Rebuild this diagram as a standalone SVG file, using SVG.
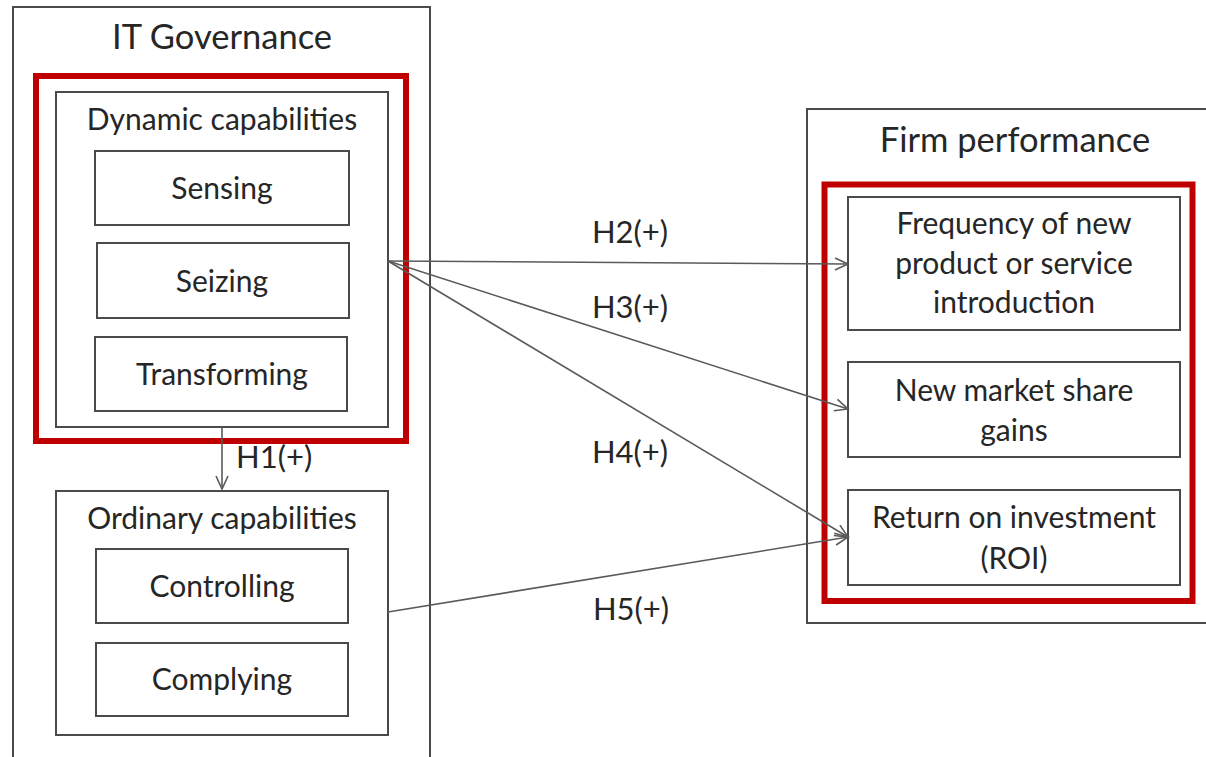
<svg xmlns="http://www.w3.org/2000/svg" width="1206" height="757" viewBox="0 0 1206 757">
  <defs>
    <style>
      .box { fill: none; stroke: #4a4a4a; stroke-width: 2; }
      .red { fill: none; stroke: #C00000; stroke-width: 6; }
      .t { font-family: Lato, "Open Sans", "Liberation Sans", sans-serif; fill: #262626; text-anchor: middle; font-size: 30px; }
      .title { font-size: 34.5px; }
      .h { font-size: 31px; }
      .lbl { font-family: Lato, "Open Sans", "Liberation Sans", sans-serif; fill: #262626; font-size: 31px; }
      .conn { fill: none; stroke: #5a5a5a; stroke-width: 1.6; }
    </style>
    <marker id="arr" markerUnits="userSpaceOnUse" markerWidth="16" markerHeight="16" refX="14" refY="7" orient="auto" viewBox="0 0 16 14">
      <path d="M1,1 L14,7 L1,13" fill="none" stroke="#5a5a5a" stroke-width="1.6"/>
    </marker>
  </defs>
  <rect width="1206" height="757" fill="#ffffff"/>

  <g id="it-governance">
    <rect class="box" x="13" y="7" width="417" height="770"/>
    <text class="t title" x="222" y="49">IT Governance</text>
  </g>
  <g id="dynamic-highlight">
    <rect class="red" x="36" y="76" width="370" height="365"/>
  </g>
  <g id="dynamic-capabilities">
    <rect class="box" x="56" y="92" width="332" height="335"/>
    <text class="t" x="222" y="130">Dynamic capabilities</text>
  </g>
  <g id="sensing">
    <rect class="box" x="95" y="151" width="254" height="74"/>
    <text class="t" x="222" y="199">Sensing</text>
  </g>
  <g id="seizing">
    <rect class="box" x="97" y="243" width="252" height="75"/>
    <text class="t" x="222" y="292">Seizing</text>
  </g>
  <g id="transforming">
    <rect class="box" x="95" y="337" width="252" height="74"/>
    <text class="t" x="222" y="385">Transforming</text>
  </g>
  <g id="ordinary-capabilities">
    <rect class="box" x="56" y="491" width="332" height="244"/>
    <text class="t" x="222" y="529">Ordinary capabilities</text>
  </g>
  <g id="controlling">
    <rect class="box" x="96" y="549" width="252" height="74"/>
    <text class="t" x="222" y="597">Controlling</text>
  </g>
  <g id="complying">
    <rect class="box" x="96" y="643" width="252" height="73"/>
    <text class="t" x="222" y="690">Complying</text>
  </g>

  <g id="firm-performance">
    <rect class="box" x="807" y="109" width="420" height="514"/>
    <text class="t title" x="1015" y="152">Firm performance</text>
  </g>
  <g id="performance-highlight">
    <rect class="red" x="824.5" y="184.5" width="368" height="416.5"/>
  </g>
  <g id="frequency">
    <rect class="box" x="848" y="197" width="332" height="133"/>
    <text class="t" x="1014" y="234">Frequency of new</text>
    <text class="t" x="1014" y="274">product or service</text>
    <text class="t" x="1014" y="313">introduction</text>
  </g>
  <g id="market-share">
    <rect class="box" x="848" y="362" width="332" height="95"/>
    <text class="t" x="1014" y="401">New market share</text>
    <text class="t" x="1014" y="441">gains</text>
  </g>
  <g id="roi">
    <rect class="box" x="848" y="490" width="332" height="95"/>
    <text class="t" x="1014" y="528">Return on investment</text>
    <text class="t" x="1014" y="569">(ROI)</text>
  </g>

  <g id="connectors">
    <line class="conn" x1="222" y1="427" x2="222" y2="489" marker-end="url(#arr)"/>
    <line class="conn" x1="388" y1="261" x2="848" y2="264" marker-end="url(#arr)"/>
    <line class="conn" x1="388" y1="261" x2="848" y2="409" marker-end="url(#arr)"/>
    <line class="conn" x1="388" y1="261" x2="848" y2="537" marker-end="url(#arr)"/>
    <line class="conn" x1="388" y1="612" x2="848" y2="537" marker-end="url(#arr)"/>
    <text class="lbl" x="236" y="468">H1(+)</text>
    <text class="t h" x="630" y="243">H2(+)</text>
    <text class="t h" x="630" y="318">H3(+)</text>
    <text class="t h" x="630" y="463">H4(+)</text>
    <text class="t h" x="631" y="620">H5(+)</text>
  </g>
</svg>
